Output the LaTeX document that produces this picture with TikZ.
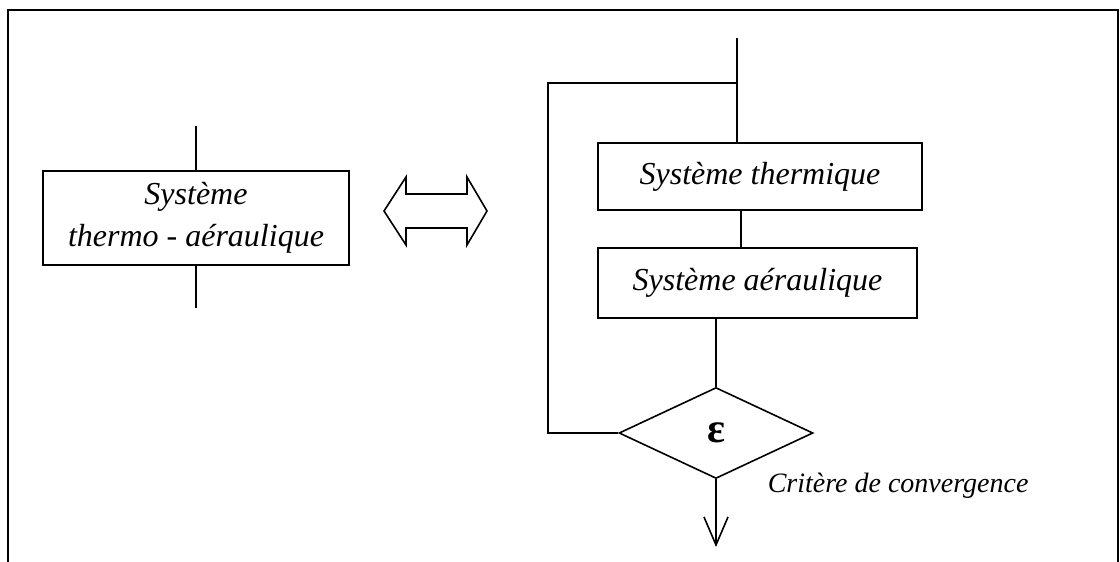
\documentclass[tikz,border=0pt]{standalone}
\usepackage{fontspec}
\setmainfont{Liberation Serif}
\usetikzlibrary{shapes.geometric}
\begin{document}
\begin{tikzpicture}[x=1pt,y=-1pt,
  every path/.style={line width=1.6pt},
  sysbox/.style={draw,line width=1.6pt,rectangle,align=center,inner sep=0pt,
    font=\itshape\fontsize{32}{42}\selectfont},
  critbox/.style={draw,line width=1.6pt,diamond,inner sep=0pt,minimum width=194pt,minimum height=91pt,
    font=\fontsize{42}{44}\selectfont},
  lbl/.style={font=\itshape\fontsize{28}{32}\selectfont,inner sep=0pt}]
\useasboundingbox (0,0) rectangle (1120,562);
% frame
\draw[line width=2pt] (8,562) -- (8,10) -- (1118,10) -- (1118,562);
% left system
\node[sysbox,minimum width=306pt,minimum height=94pt] (sta) at (196,218) {Système\\thermo - aéraulique};
\coordinate (staIn) at (196,126);
\coordinate (staOut) at (196,308);
\draw (staIn) -- (sta.north);
\draw (sta.south) -- (staOut);
% double arrow (equivalence)
\draw[line join=miter] (384,211) -- (406,177) -- (406,194) -- (467,194) -- (467,177) -- (487,211)
  -- (467,245) -- (467,228) -- (406,228) -- (406,245) -- cycle;
% right flow
\node[sysbox,minimum width=324pt,minimum height=67pt] (th) at (760,176.5) {Système thermique};
\node[sysbox,minimum width=319pt,minimum height=70pt] (ae) at (757.5,283) {Système aéraulique};
\node[critbox] (crit) at (716,433) {\textbf{ε}};
\node[lbl,anchor=base west] (critlbl) at (767,492) {Critère de convergence};
\coordinate (in) at (737,38);
\coordinate (join) at (737,83);
\coordinate (loopTop) at (548,83);
\coordinate (loopBot) at (548,433);
\coordinate (out) at (716,545);
\draw (in) -- (in |- th.north);
\draw (th.south -| 741,0) -- (ae.north -| 741,0);
\draw (ae.south -| crit.north) -- (crit.north);
\draw (crit.west) -- (loopBot) -- (loopTop) -- (join);
\draw (crit.south) -- (out);
\draw[line join=miter] (704,517) -- (out) -- (728,517);
\end{tikzpicture}
\end{document}
